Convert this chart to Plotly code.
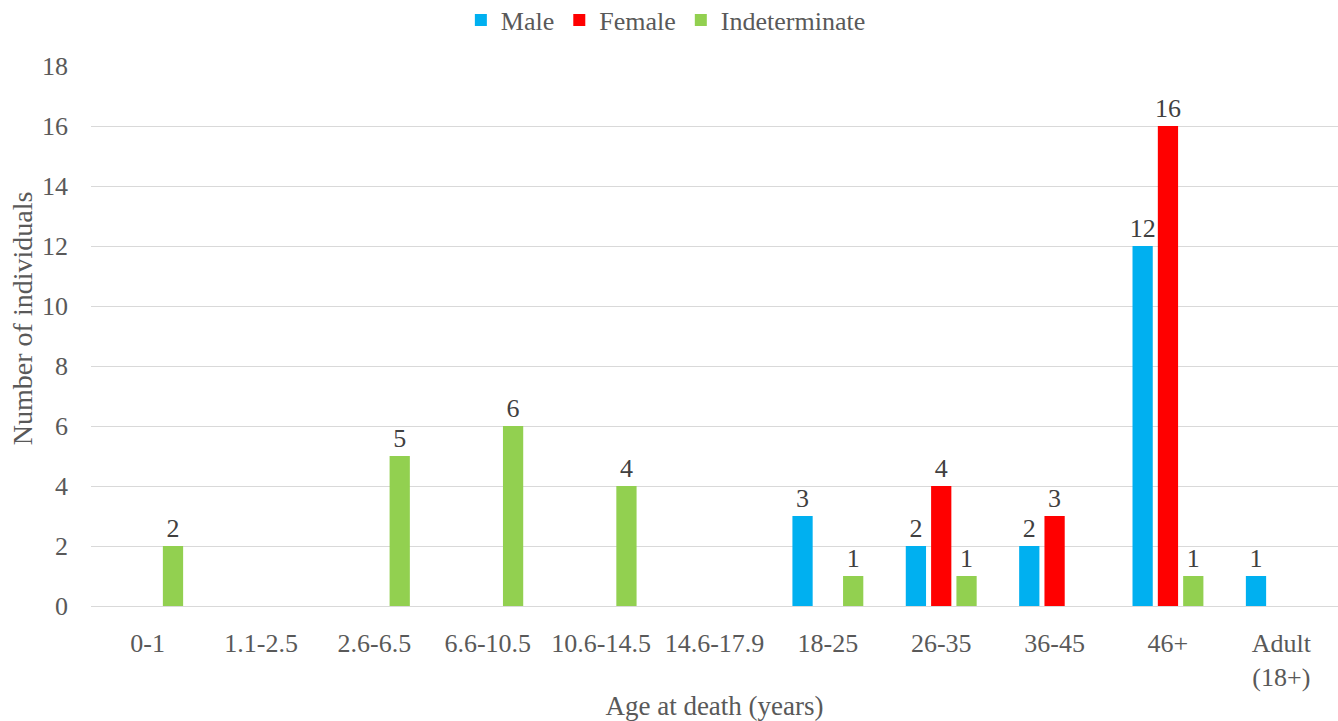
import plotly.graph_objects as go

age_groups = ["0-1", "1.1-2.5", "2.6-6.5", "6.6-10.5", "10.6-14.5", "14.6-17.9",
              "18-25", "26-35", "36-45", "46+", "Adult<br>(18+)"]
male = [None, None, None, None, None, None, 3, 2, 2, 12, 1]
female = [None, None, None, None, None, None, None, 4, 3, 16, None]
indeterminate = [2, None, 5, 6, 4, None, 1, 1, None, 1, None]

series = [
    ("Male", male, "#00B0F0"),
    ("Female", female, "#FF0000"),
    ("Indeterminate", indeterminate, "#92D050"),
]

font_family = "Liberation Serif, Times New Roman, serif"
text_color = "#595959"

fig = go.Figure()
for name, values, color in series:
    fig.add_trace(go.Bar(
        name=name,
        x=age_groups,
        y=values,
        marker=dict(color=color, line=dict(width=0)),
        text=[("" if v is None else str(v)) for v in values],
        textposition="outside",
        constraintext="none",
        cliponaxis=False,
        textfont=dict(family=font_family, size=26, color="#404040"),
    ))

fig.update_layout(
    width=1338,
    height=721,
    barmode="group",
    bargap=0.33,
    bargroupgap=0.2,
    plot_bgcolor="white",
    paper_bgcolor="white",
    margin=dict(l=91, r=0, t=66, b=115),
    font=dict(family=font_family, size=26, color=text_color),
    legend=dict(
        orientation="h",
        xanchor="center", x=0.461,
        yref="container", yanchor="middle", y=0.972,
        font=dict(family=font_family, size=26, color=text_color),
        itemwidth=30,
        traceorder="normal",
    ),
)

# Vertical axis title placed as a rotated annotation left of the tick labels
fig.add_annotation(
    text="Number of individuals",
    xref="paper", yref="paper",
    x=-69 / 1247, y=0.533,
    xanchor="center", yanchor="middle",
    textangle=-90,
    showarrow=False,
    font=dict(family=font_family, size=28, color=text_color),
)

fig.update_xaxes(
    title=dict(text="Age at death (years)", standoff=14,
               font=dict(family=font_family, size=27, color=text_color)),
    tickfont=dict(family=font_family, size=26, color=text_color),
    showline=True, linecolor="#D9D9D9", linewidth=1,
    ticks="", ticklabelstandoff=14,
    showgrid=False,
    automargin=False,
)

fig.update_yaxes(
    range=[0, 18],
    dtick=2,
    tickfont=dict(family=font_family, size=26, color=text_color),
    showgrid=True, gridcolor="#D9D9D9", gridwidth=1,
    zeroline=True, zerolinecolor="#D9D9D9", zerolinewidth=1,
    ticks="", ticklabelstandoff=22,
    automargin=False,
)

fig.write_html("out.html")
